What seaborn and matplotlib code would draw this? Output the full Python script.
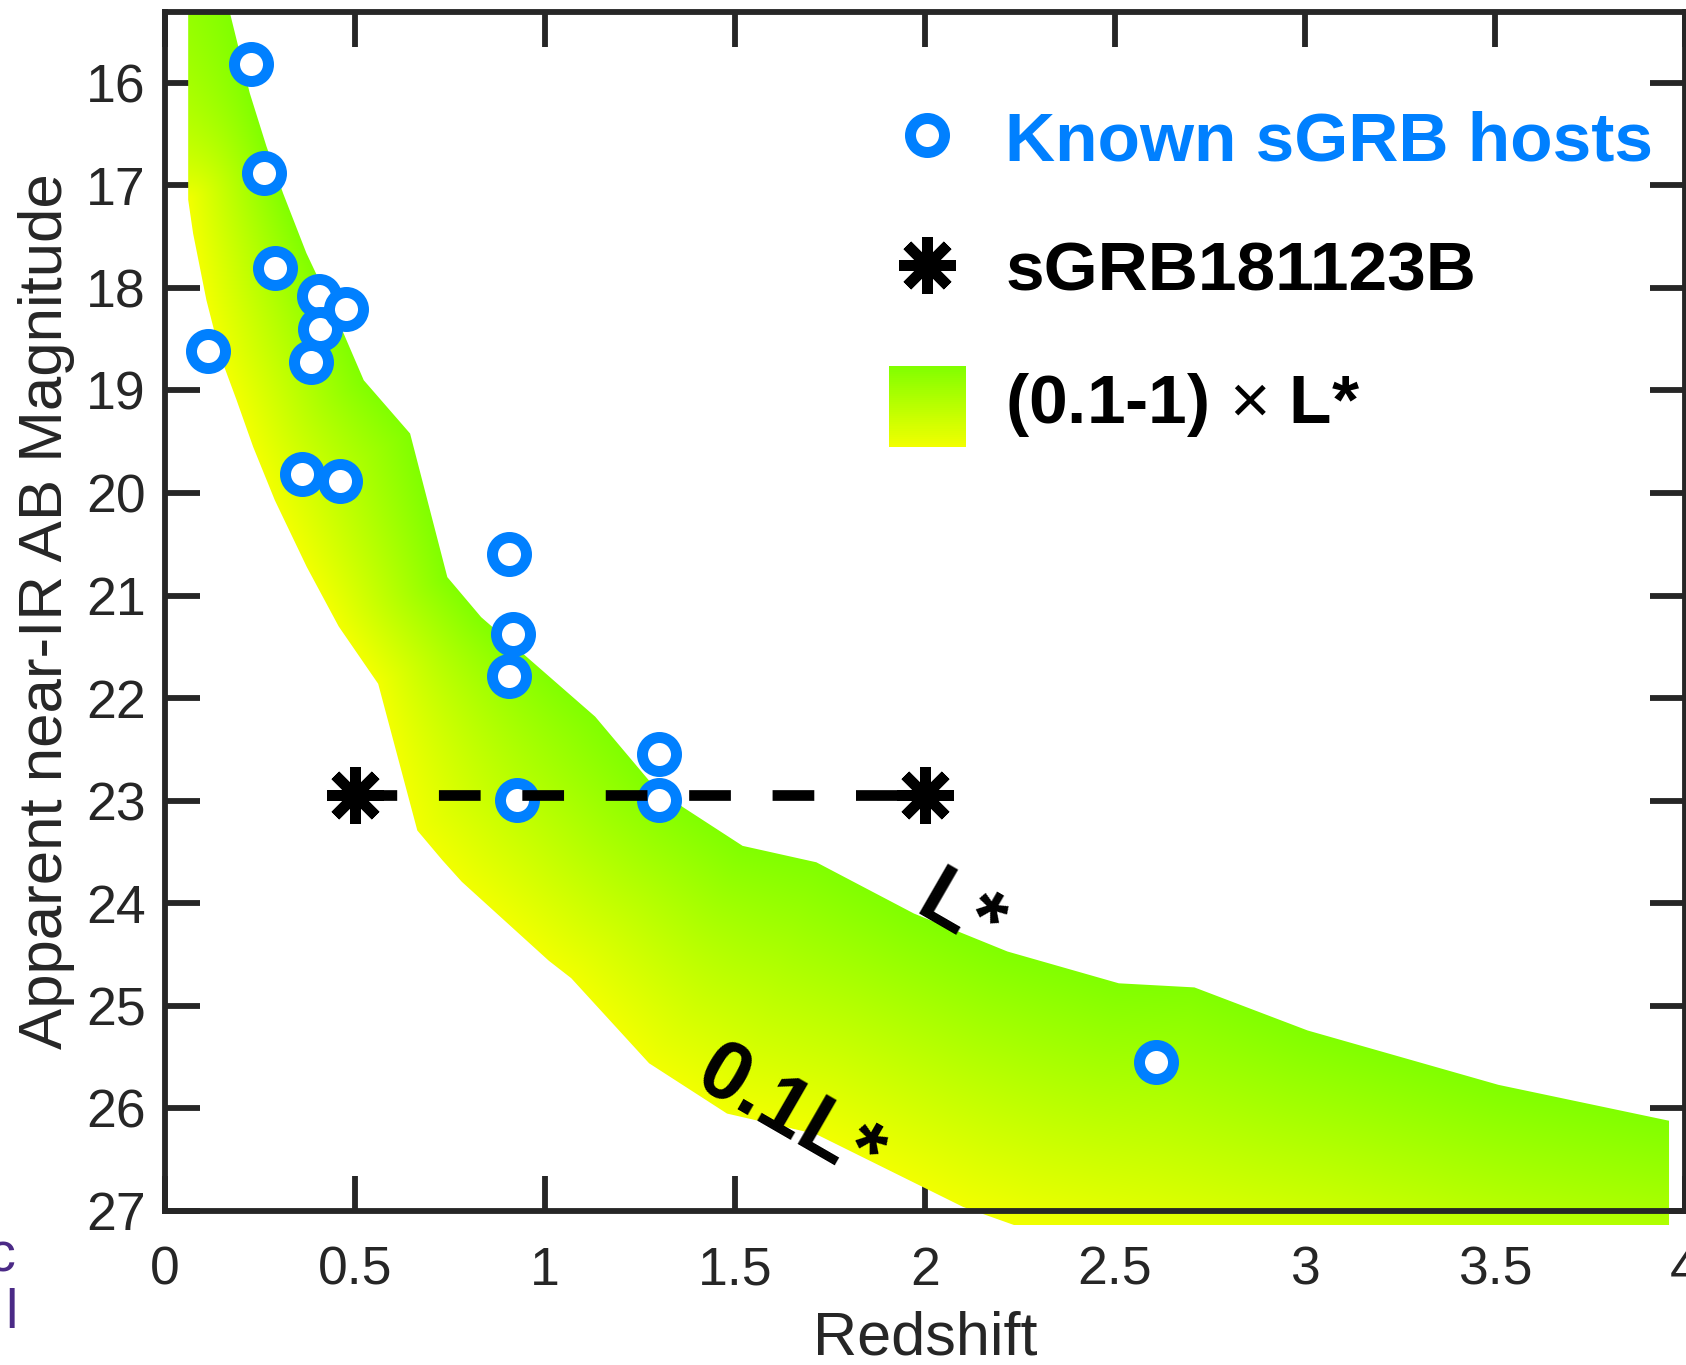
import numpy as np
import matplotlib
matplotlib.use('Agg')
import matplotlib.pyplot as plt
import seaborn as sns
from matplotlib.patches import Polygon, Rectangle
from matplotlib.transforms import Bbox, TransformedBbox
from matplotlib.legend_handler import HandlerBase
from matplotlib.lines import Line2D

# known sGRB host galaxies (redshift, near-IR AB mag)
host_z = [0.114, 0.227, 0.260, 0.290, 0.383, 0.406, 0.408, 0.477, 0.360, 0.460,
          0.905, 0.917, 0.905, 0.926, 1.301, 1.301, 2.609]
host_mag = [18.62, 15.82, 16.88, 17.81, 18.72, 18.08, 18.40, 18.21, 19.81, 19.88,
            20.59, 21.37, 21.78, 22.99, 22.54, 22.99, 25.55]

# sGRB181123B, two possible redshifts
grb_z = [0.5, 2.0]
grb_mag = [22.94, 22.94]

# L* track (bright edge of the band)
lstar_z = [0.061, 0.171, 0.223, 0.267, 0.311, 0.372, 0.451, 0.523, 0.645, 0.743, 0.832,
           1.132, 1.273, 1.362, 1.520, 1.714, 1.971, 2.217, 2.510, 2.709, 3.007, 3.509, 3.958]
lstar_mag = [12.0, 15.32, 16.10, 16.62, 17.08, 17.66, 18.28, 18.90, 19.42, 20.82, 21.21,
             22.18, 22.80, 23.06, 23.44, 23.60, 24.10, 24.47, 24.78, 24.82, 25.24, 25.77, 26.12]

# 0.1 L* track (faint edge of the band)
tenth_z = [0.061, 0.074, 0.109, 0.149, 0.188, 0.232, 0.289, 0.373, 0.457, 0.561, 0.664, 0.730,
           0.781, 1.010, 1.069, 1.274, 1.479, 1.713, 2.100, 2.252, 2.600, 3.000, 3.500, 3.958]
tenth_mag = [17.14, 17.47, 18.12, 18.70, 19.09, 19.55, 20.07, 20.72, 21.30, 21.86, 23.29, 23.58,
             23.79, 24.56, 24.73, 25.56, 26.05, 26.25, 26.96, 27.16, 27.45, 27.75, 28.25, 28.60]

xticks = [0, 0.5, 1, 1.5, 2, 2.5, 3, 3.5, 4]
xtick_labels = ['0', '0.5', '1', '1.5', '2', '2.5', '3', '3.5', '4']
yticks = [16, 17, 18, 19, 20, 21, 22, 23, 24, 25, 26, 27]

labels = ['Known sGRB hosts', 'sGRB181123B', '(0.1-1) $\\times$ L*']

blue = '#0080ff'
green = np.array([128, 255, 0]) / 255
yellow = np.array([242, 255, 0]) / 255
axcol = '#262626'

sns.set_style('ticks')
plt.rcParams['font.family'] = ['Liberation Sans', 'DejaVu Sans']
plt.rcParams['mathtext.fontset'] = 'custom'
plt.rcParams['mathtext.rm'] = 'Liberation Sans'

fig = plt.figure(figsize=(16.86, 13.65), dpi=100)
ax = fig.add_axes([165 / 1686, 154 / 1365, 1520 / 1686, 1199 / 1365])
ax.set_xlim(0, 4)
ax.set_ylim(27, 15.31)

# --- gradient band between 0.1L* and L*
ytop, ybot = 15.31, 27.14
gx, gy = np.meshgrid(np.linspace(0, 4, 900), np.linspace(ytop, ybot, 700))
px, py = gx * 380, gy * 102.5


def dist_to_line(xs, ys):
    xs = np.asarray(xs) * 380
    ys = np.asarray(ys) * 102.5
    d = np.full(px.shape, np.inf)
    for i in range(len(xs) - 1):
        dx, dy = xs[i + 1] - xs[i], ys[i + 1] - ys[i]
        t = np.clip(((px - xs[i]) * dx + (py - ys[i]) * dy) / (dx * dx + dy * dy), 0, 1)
        d = np.minimum(d, np.hypot(px - xs[i] - t * dx, py - ys[i] - t * dy))
    return d


d_up = dist_to_line(lstar_z, lstar_mag)
d_lo = dist_to_line(tenth_z, tenth_mag)
frac = d_lo / (d_lo + d_up)
rgb = yellow + (green - yellow) * frac[..., None]

im = ax.imshow(rgb, extent=(0, 4, ybot, ytop), origin='upper', aspect='auto',
               interpolation='bilinear', zorder=1)
band = Polygon(np.column_stack([lstar_z + tenth_z[::-1], lstar_mag + tenth_mag[::-1]]),
               closed=True, transform=ax.transData, facecolor='none', edgecolor='none')
im.set_clip_path(band)
im.set_clip_box(TransformedBbox(Bbox([[0, ytop], [4, ybot]]), ax.transData))
ax.set_xlim(0, 4)
ax.set_ylim(27, 15.31)

# --- host galaxies
sns.scatterplot(x=host_z, y=host_mag, marker='o', s=600, color='white', edgecolor=blue,
                linewidth=7.9, ax=ax, zorder=3, legend=False)

# --- sGRB181123B
star = (8, 2, 0)
ax.plot(grb_z, grb_mag, color='black', lw=7.7, linestyle=(0, (3.9, 3.9)), zorder=4)
ax.plot(grb_z, grb_mag, color='black', lw=0, marker=star, ms=41, mew=7.7, zorder=5)

# band edge labels
ax.text(1.968, 24.09, 'L*', rotation=-30, rotation_mode='anchor', ha='left', va='baseline',
        fontsize=60, fontweight='bold', color='black', zorder=6)
ax.text(1.388, 25.77, '0.1L*', rotation=-30, rotation_mode='anchor', ha='left', va='baseline',
        fontsize=60, fontweight='bold', color='black', zorder=6)

# --- axes styling
ax.set_xticks(xticks)
ax.set_xticklabels(xtick_labels)
ax.set_yticks(yticks)
for s in ax.spines.values():
    s.set_visible(True)
    s.set_linewidth(4.2)
    s.set_color(axcol)
ax.tick_params(direction='in', top=True, right=True, length=25, width=4.2, color=axcol,
               labelsize=38.5, labelcolor=axcol)
ax.tick_params(axis='x', pad=25)
ax.tick_params(axis='y', pad=14)
ax.set_xlabel('Redshift', fontsize=44, color=axcol)
ax.set_ylabel('Apparent near-IR AB Magnitude', fontsize=44.5, color=axcol)
ax.xaxis.set_label_coords(0.5, -0.083)
ax.yaxis.set_label_coords(-0.0595, 0.5)


# --- legend
class BandKey:
    pass


class BandHandler(HandlerBase):
    def create_artists(self, legend, orig_handle, xdescent, ydescent, width, height, fontsize, trans):
        n = 40
        y0 = -0.346 * fontsize
        hh = 1.166 * fontsize
        arts = []
        for i in range(n):
            f = (i + 0.5) / n
            c = yellow + (green - yellow) * f
            arts.append(Rectangle((-xdescent, y0 + hh * i / n), width, hh / n * 1.08,
                                  facecolor=c, edgecolor='none', transform=trans))
        return arts


h_host = Line2D([], [], ls='none', marker='o', ms=24.5, mew=7.9, mfc='white', mec=blue)
h_grb = Line2D([], [], ls='none', marker=star, ms=41, mew=7.7, color='black')
leg = ax.legend([h_host, h_grb, BandKey()], labels, handler_map={BandKey: BandHandler()},
                loc='upper left', bbox_to_anchor=(0.476, 0.9188), frameon=False,
                prop={'weight': 'bold', 'size': 50}, borderpad=0, borderaxespad=0,
                handlelength=1.11, handleheight=0.8, handletextpad=0.57, labelspacing=0.95)
for t, c in zip(leg.get_texts(), [blue, 'black', 'black']):
    t.set_color(c)
leg.set_zorder(7)

# cropped fragment of neighbouring text at left edge
fig.text(-12, 1365 - 1272, 'c', transform=None, fontsize=40, color='#4b2a86')
fig.text(5, 1365 - 1328, 'l', transform=None, fontsize=40, color='#4b2a86')

fig.savefig('out.png', dpi=100)
